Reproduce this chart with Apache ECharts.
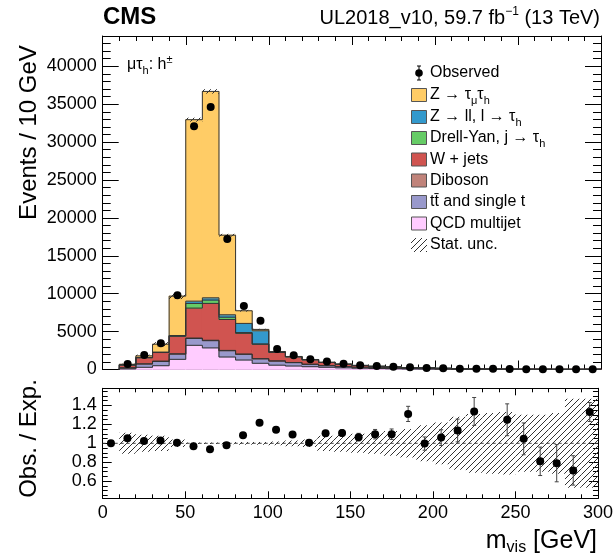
<!DOCTYPE html>
<html><head><meta charset="utf-8">
<script src="https://cdn.jsdelivr.net/npm/echarts@6/dist/echarts.min.js"></script>
<style>html,body{margin:0;padding:0;background:#fff}#c{width:616px;height:556px}</style>
</head><body><div id="c"></div>
<script>
// ---------------- data ----------------
const binLow = [0,10,20,30,40,50,60,70,80,90,100,110,120,130,140,150,160,170,180,190,200,210,220,230,240,250,260,270,280,290];
const binWidth = 10;
const qcd = [0,80,290,500,1340,3190,2850,1650,1250,820,570,460,370,290,220,170,130,100,70,60,45,27,18,14,11,10,10,7,7,9];
const ttbar = [0,130,430,560,680,900,950,820,750,580,540,440,310,210,160,125,100,80,60,55,42,28,20,17,14,12,11,9,9,10];
const diboson = [0,15,30,50,60,60,60,50,40,30,30,25,20,15,12,10,8,7,6,5,4,3,2,2,2,1,1,1,1,1];
const wjets = [0,360,800,1130,2300,3950,4860,4080,2730,1900,1110,745,580,410,290,225,175,138,92,88,62,38,27,22,17,15,15,11,11,14];
const dyjtau = [0,10,15,20,60,620,440,300,100,40,20,10,8,5,4,3,2,1,1,1,1,0,0,0,0,0,0,0,0,0];
const zll = [0,15,25,30,40,300,300,320,1210,1740,60,25,20,12,8,4,3,2,1,1,1,1,0,0,0,0,0,0,0,0];
const ztt = [0,80,210,1050,5200,23940,27230,10500,1670,180,30,15,12,8,6,3,2,2,0,0,0,0,0,0,0,0,0,0,0,0];
const observed = [null,730,1900,3450,9800,32080,34620,17230,8370,6420,2720,1880,1340,1050,775,575,460,362,300,210,165,110,90,95,55,40,30,22,20,45];
const ratio = [1.0,1.053,1.025,1.029,1.007,0.968,0.936,0.979,1.085,1.216,1.142,1.092,1.007,1.106,1.108,1.065,1.096,1.096,1.31,0.997,1.06,1.135,1.336,null,1.248,1.047,0.81,0.79,0.714,1.33];
const ratioErr = [0,0.01,0.01,0.01,0.01,0.005,0.005,0.008,0.012,0.015,0.02,0.025,0.03,0.03,0.035,0.04,0.05,0.055,0.08,0.07,0.083,0.12,0.147,0,0.168,0.168,0.15,0.196,0.155,0.1];
const statUnc = [0,0.11,0.09,0.08,0.04,0.008,0.008,0.01,0.015,0.015,0.02,0.03,0.04,0.08,0.09,0.1,0.11,0.13,0.15,0.19,0.22,0.28,0.31,0.32,0.33,0.3,0.3,0.32,0.47,0.47];
const yTicks = [0,5000,10000,15000,20000,25000,30000,35000,40000];
const ratioTicks = [0.6,0.8,1,1.2,1.4];

// ---------------- helpers ----------------
const FONT = '"Liberation Sans", Arial, Helvetica, sans-serif';
function hatch(color, s) {
  const c = document.createElement('canvas');
  c.width = s; c.height = s;
  const g = c.getContext('2d');
  g.strokeStyle = color; g.lineWidth = 1;
  g.beginPath();
  g.moveTo(0, s); g.lineTo(s, 0);
  g.moveTo(-2, 2); g.lineTo(2, -2);
  g.moveTo(s - 2, s + 2); g.lineTo(s + 2, s - 2);
  g.stroke();
  return c;
}
const hatchImg = hatch('#333', 6);
const hatchFill = {image: hatchImg, repeat: 'repeat'};

const comps = [
  {vals: qcd, color: '#ffccff'},
  {vals: ttbar, color: '#9999cc'},
  {vals: diboson, color: '#c0837a'},
  {vals: wjets, color: '#d05450'},
  {vals: dyjtau, color: '#66cc66'},
  {vals: zll, color: '#3399cc'},
  {vals: ztt, color: '#ffcc66'}
];

const chart = echarts.init(document.getElementById('c'), null, {renderer: 'canvas', width: 616, height: 556});
const series = [];
const cum = binLow.map(() => 0);
comps.forEach((c) => {
  const tops = binLow.map((b, i) => cum[i] + c.vals[i]);
  const data = [];
  for (let i = 1; i < binLow.length; i++) {
    data.push([binLow[i], binLow[i] + binWidth, cum[i], tops[i], tops[i - 1], i === binLow.length - 1 ? 1 : 0]);
  }
  const col = c.color;
  series.push({
    type: 'custom', xAxisIndex: 0, yAxisIndex: 0, z: 2,
    data: data,
    renderItem: function (params, api) {
      const x0 = api.value(0), x1 = api.value(1), lo = api.value(2), hi = api.value(3), prev = api.value(4), last = api.value(5);
      const a = api.coord([x0, lo]), b = api.coord([x1, hi]), p = api.coord([x0, prev]), z0 = api.coord([x1, 0]);
      const ch = [];
      if (a[1] - b[1] > 0) ch.push({type: 'rect', z2: 1, shape: {x: a[0] - 0.4, y: b[1] - 0.4, width: b[0] - a[0] + 0.8, height: a[1] - b[1] + 0.8}, style: {fill: col}});
      ch.push({type: 'line', z2: 10, shape: {x1: a[0], y1: b[1], x2: b[0], y2: b[1]}, style: {stroke: '#333', lineWidth: 1}});
      ch.push({type: 'line', z2: 10, shape: {x1: a[0], y1: p[1], x2: a[0], y2: b[1]}, style: {stroke: '#333', lineWidth: 1}});
      if (last) ch.push({type: 'line', z2: 10, shape: {x1: b[0], y1: b[1], x2: b[0], y2: z0[1]}, style: {stroke: '#333', lineWidth: 1}});
      return {type: 'group', children: ch};
    }
  });
  for (let i = 0; i < cum.length; i++) cum[i] = tops[i];
});

// stat. unc. band on top panel
const bandTop = [];
for (let i = 1; i < binLow.length; i++) bandTop.push([binLow[i], binLow[i] + binWidth, cum[i] * (1 - statUnc[i]), cum[i] * (1 + statUnc[i])]);
function renderBand(params, api) {
  const a = api.coord([api.value(0), api.value(2)]), b = api.coord([api.value(1), api.value(3)]);
  return {type: 'rect', z2: 20, shape: {x: a[0], y: b[1], width: b[0] - a[0], height: a[1] - b[1]}, style: {fill: hatchFill}};
}
series.push({type: 'custom', xAxisIndex: 0, yAxisIndex: 0, z: 3, data: bandTop, renderItem: renderBand});

// observed points
series.push({
  type: 'scatter', xAxisIndex: 0, yAxisIndex: 0, z: 6, symbol: 'circle', symbolSize: 8,
  itemStyle: {color: '#000', opacity: 1},
  data: binLow.map((b, i) => observed[i] == null ? null : [b + binWidth / 2, observed[i]]).filter(d => d)
});

// ratio band
const bandRatio = [];
for (let i = 1; i < binLow.length; i++) bandRatio.push([binLow[i], binLow[i] + binWidth, 1 - statUnc[i], 1 + statUnc[i]]);
series.push({type: 'custom', xAxisIndex: 2, yAxisIndex: 2, z: 3, data: bandRatio, renderItem: renderBand, clip: true});

// dashed line at 1
series.push({type: 'line', xAxisIndex: 2, yAxisIndex: 2, z: 4, symbol: 'none', silent: true,
  lineStyle: {color: '#444', width: 1, type: [3, 3]}, data: [[0, 1], [300, 1]]});

// ratio error bars
const ratioPts = binLow.map((b, i) => ratio[i] == null ? null : [b + binWidth / 2, ratio[i], ratioErr[i]]).filter(d => d);
series.push({
  type: 'custom', xAxisIndex: 2, yAxisIndex: 2, z: 5, data: ratioPts,
  renderItem: function (params, api) {
    const x = api.value(0), r = api.value(1), e = api.value(2);
    const lo = api.coord([x, r - e]), hi = api.coord([x, r + e]);
    return {type: 'group', children: [
      {type: 'line', shape: {x1: lo[0], y1: lo[1], x2: hi[0], y2: hi[1]}, style: {stroke: '#444', lineWidth: 1}},
      {type: 'line', shape: {x1: lo[0] - 2, y1: lo[1], x2: lo[0] + 2, y2: lo[1]}, style: {stroke: '#444', lineWidth: 1}},
      {type: 'line', shape: {x1: hi[0] - 2, y1: hi[1], x2: hi[0] + 2, y2: hi[1]}, style: {stroke: '#444', lineWidth: 1}}
    ]};
  }
});
series.push({type: 'scatter', xAxisIndex: 2, yAxisIndex: 2, z: 6, symbol: 'circle', symbolSize: 8,
  itemStyle: {color: '#000', opacity: 1}, data: ratioPts.map(d => [d[0], d[1]])});

// ---------------- axes ----------------
function xAx(grid, pos, showLabels, major, minor) {
  return {type: 'value', gridIndex: grid, position: pos, min: 0, max: 300, interval: 50,
    axisLine: {show: true, onZero: false, lineStyle: {color: '#000', width: 1}},
    axisTick: {show: true, inside: true, length: major, lineStyle: {color: '#000'}},
    minorTick: {show: true, splitNumber: 5, length: minor, lineStyle: {color: '#000'}},
    splitLine: {show: false}, minorSplitLine: {show: false},
    axisLabel: {show: showLabels, fontSize: 18, color: '#000', fontFamily: FONT, margin: 6}};
}
function yTop(pos, showLabels) {
  return {type: 'value', gridIndex: 0, position: pos, min: yTicks[0], max: 44000, interval: yTicks[1] - yTicks[0],
    axisLine: {show: true, onZero: false, lineStyle: {color: '#000', width: 1}},
    axisTick: {show: true, inside: true, length: 16, lineStyle: {color: '#000'}},
    minorTick: {show: true, splitNumber: 5, length: 8, lineStyle: {color: '#000'}},
    splitLine: {show: false}, minorSplitLine: {show: false},
    axisLabel: {show: showLabels, showMaxLabel: false, fontSize: 18, color: '#000', fontFamily: FONT, margin: 6,
      formatter: v => yTicks.indexOf(v) >= 0 ? String(v) : ''}};
}
function yRatio(pos, showLabels) {
  return {type: 'value', gridIndex: 1, position: pos, min: 0.42, max: 1.58, minInterval: 0.2, maxInterval: 0.2,
    axisLine: {show: true, onZero: false, lineStyle: {color: '#000', width: 1}},
    axisTick: {show: true, inside: true, length: 9, lineStyle: {color: '#000'}},
    minorTick: {show: true, splitNumber: 4, length: 5, lineStyle: {color: '#000'}},
    splitLine: {show: false}, minorSplitLine: {show: false},
    axisLabel: {show: showLabels, showMinLabel: false, showMaxLabel: false, fontSize: 18, color: '#000', fontFamily: FONT, margin: 6,
      formatter: v => { const r = Math.round(v * 10) / 10; return ratioTicks.indexOf(r) >= 0 && Math.abs(r - v) < 1e-6 ? String(r) : ''; }}};
}

// ---------------- legend & texts ----------------
const rich = {
  sub: {fontSize: 11, fontFamily: FONT, verticalAlign: 'bottom', lineHeight: 12, color: '#000'},
  sup: {fontSize: 11, fontFamily: FONT, verticalAlign: 'top', lineHeight: 12, color: '#000'}
};
const legendItems = [
  {label: 'Observed', kind: 'point'},
  {label: 'Z \u2192 \u03c4{sub|\u03bc}\u03c4{sub|h}', color: '#ffcc66'},
  {label: 'Z \u2192 ll, l \u2192 \u03c4{sub|h}', color: '#3399cc'},
  {label: 'Drell-Yan, j \u2192 \u03c4{sub|h}', color: '#66cc66'},
  {label: 'W + jets', color: '#d05450'},
  {label: 'Diboson', color: '#c0837a'},
  {label: 'tt\u0304 and single t', color: '#9999cc'},
  {label: 'QCD multijet', color: '#ffccff'},
  {label: 'Stat. unc.', kind: 'hatch'}
];
const legendY = [73, 95, 117, 138, 159.5, 180.5, 202, 223.5, 245];
const graphics = [];
legendItems.forEach((it, k) => {
  const y = legendY[k];
  if (it.kind === 'point') {
    graphics.push({type: 'line', shape: {x1: 419, y1: y - 7, x2: 419, y2: y + 7}, style: {stroke: '#000', lineWidth: 1}});
    graphics.push({type: 'line', shape: {x1: 417, y1: y - 7, x2: 421, y2: y - 7}, style: {stroke: '#000', lineWidth: 1}});
    graphics.push({type: 'line', shape: {x1: 417, y1: y + 7, x2: 421, y2: y + 7}, style: {stroke: '#000', lineWidth: 1}});
    graphics.push({type: 'circle', shape: {cx: 419, cy: y, r: 3.8}, style: {fill: '#000'}});
  } else if (it.kind === 'hatch') {
    graphics.push({type: 'rect', shape: {x: 411, y: y - 7, width: 16, height: 14}, style: {fill: hatchFill}});
  } else {
    graphics.push({type: 'rect', shape: {x: 411.5, y: y - 6.5, width: 15, height: 13}, style: {fill: it.color, stroke: '#555', lineWidth: 1}});
  }
  graphics.push({type: 'text', x: 430, y: y, style: {text: it.label, rich: rich, font: '16px ' + FONT, fontSize: 16, fontFamily: FONT,
    fill: '#000', lineHeight: 22, textAlign: 'left', textVerticalAlign: 'middle', align: 'left', verticalAlign: 'middle'}});
});
graphics.push({type: 'text', x: 103, y: 17, style: {text: 'CMS', fontSize: 24, fontWeight: 'bold', fontFamily: FONT, fill: '#000',
  textAlign: 'left', textVerticalAlign: 'middle', align: 'left', verticalAlign: 'middle'}});
graphics.push({type: 'text', x: 600, y: 18, style: {text: 'UL2018_v10, 59.7 fb{sup|\u22121} (13 TeV)', fontSize: 20, fontFamily: FONT, fill: '#000',
  lineHeight: 24, rich: {sup: {fontSize: 12, fontFamily: FONT, verticalAlign: 'top', lineHeight: 13, color: '#000'}},
  textAlign: 'right', textVerticalAlign: 'middle', align: 'right', verticalAlign: 'middle'}});
graphics.push({type: 'text', x: 127, y: 65, style: {text: '\u03bc\u03c4{sub|h}: h{sup|\u00b1}', fontSize: 16, fontFamily: FONT, fill: '#000',
  lineHeight: 22, rich: {sub: {fontSize: 11, fontFamily: FONT, verticalAlign: 'bottom', lineHeight: 12, color: '#000'}, sup: {fontSize: 11, fontFamily: FONT, verticalAlign: 'top', lineHeight: 12, color: '#000'}},
  textAlign: 'left', textVerticalAlign: 'middle', align: 'left', verticalAlign: 'middle'}});
graphics.push({type: 'text', x: 29, y: 132.5, rotation: Math.PI / 2, style: {text: 'Events / 10 GeV', fontSize: 24, fontFamily: FONT, fill: '#000',
  textAlign: 'center', textVerticalAlign: 'middle', align: 'center', verticalAlign: 'middle'}});
graphics.push({type: 'text', x: 29, y: 438.5, rotation: Math.PI / 2, style: {text: 'Obs. / Exp.', fontSize: 24, fontFamily: FONT, fill: '#000',
  textAlign: 'center', textVerticalAlign: 'middle', align: 'center', verticalAlign: 'middle'}});
graphics.push({type: 'text', x: 597, y: 541, style: {text: 'm{sub|vis} [GeV]', fontSize: 25, fontFamily: FONT, fill: '#000',
  lineHeight: 30, rich: {sub: {fontSize: 16, fontFamily: FONT, verticalAlign: 'bottom', lineHeight: 18, color: '#000'}},
  textAlign: 'right', textVerticalAlign: 'middle', align: 'right', verticalAlign: 'middle'}});

chart.setOption({
  animation: false,
  backgroundColor: '#fff',
  grid: [
    {left: 102.7, right: 15, top: 36, height: 333.5, containLabel: false},
    {left: 102.7, right: 15, top: 388.3, height: 110, containLabel: false}
  ],
  xAxis: [xAx(0, 'bottom', false, 9, 5), xAx(0, 'top', false, 9, 5), xAx(1, 'bottom', true, 7, 4), xAx(1, 'top', false, 7, 4)],
  yAxis: [yTop('left', true), yTop('right', false), yRatio('left', true), yRatio('right', false)],
  series: series,
  graphic: graphics
});
</script></body></html>
